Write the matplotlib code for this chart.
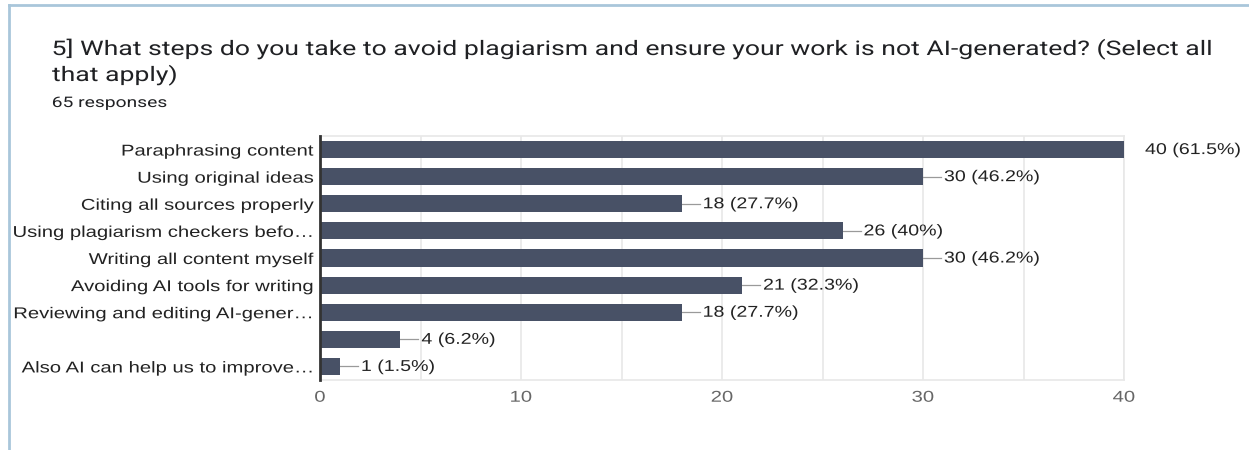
import matplotlib.pyplot as plt
from matplotlib.lines import Line2D
from matplotlib.patheffects import AbstractPathEffect
from matplotlib.transforms import Affine2D

plt.rcParams['font.family'] = ['Liberation Sans', 'DejaVu Sans']

# survey answers (top to bottom) and counts
labels = [
    "Paraphrasing content",
    "Using original ideas",
    "Citing all sources properly",
    "Using plagiarism checkers befo\u2026",
    "Writing all content myself",
    "Avoiding AI tools for writing",
    "Reviewing and editing AI-gener\u2026",
    "",
    "Also AI can help us to improve\u2026",
]
counts = [40, 30, 18, 26, 30, 21, 18, 4, 1]
percents = ["61.5%", "46.2%", "27.7%", "40%", "46.2%", "32.3%", "27.7%", "6.2%", "1.5%"]
total = 65

bar_color = "#485166"
grid_color = "#e8e8e8"
text_color = "#222222"


class Stretch(AbstractPathEffect):
    """Widen text horizontally around an anchor (0 left, 0.5 centre, 1 right)."""

    def __init__(self, sx, anchor=0.0):
        super().__init__()
        self.sx = sx
        self.anchor = anchor

    def draw_path(self, renderer, gc, tpath, affine, rgbFace=None):
        ext = tpath.get_extents()
        x0 = ext.x0 + self.anchor * ext.width
        st = Affine2D().translate(-x0, 0).scale(self.sx, 1).translate(x0, 0)
        renderer.draw_path(gc, tpath, st + affine, rgbFace)


SX = 1.29

fig = plt.figure(figsize=(12.49, 4.5), dpi=100)
ax = fig.add_axes([320 / 1249, 1 - 380 / 450, 804 / 1249, 244 / 450])

ypos = list(range(len(labels)))
ax.barh(ypos, counts, height=0.63, color=bar_color, zorder=3)

# leader lines + value labels
for y, c, p in zip(ypos, counts, percents):
    ax.plot([c, c + 0.9], [y, y], color="#9a9a9a", lw=0.9, zorder=2, clip_on=True)
    ax.text(c + 1.05, y, f"{c} ({p})", va="center", ha="left", fontsize=11.3,
            color=text_color, clip_on=False, path_effects=[Stretch(1.25, 0)])

ax.set_xlim(0, 40)
ax.set_ylim(8.5, -0.5)
ax.set_yticks(ypos)
ax.set_yticklabels(labels, fontsize=11.3, color=text_color)
ax.set_xticks([0, 10, 20, 30, 40])
ax.set_xticks([5, 15, 25, 35], minor=True)
ax.tick_params(axis="x", which="both", length=0, pad=7, labelsize=11.3, labelcolor="#666666")
ax.tick_params(axis="y", length=0, pad=4)
ax.grid(axis="x", which="both", color=grid_color, lw=1.2, zorder=0)
for t in ax.get_yticklabels():
    t.set_path_effects([Stretch(SX, 1)])
for t in ax.get_xticklabels():
    t.set_path_effects([Stretch(SX, 0.5)])

for s in ["top", "bottom", "right"]:
    ax.spines[s].set_color(grid_color)
    ax.spines[s].set_linewidth(1.2)
ax.spines["left"].set_color("#333333")
ax.spines["left"].set_linewidth(2)
ax.spines["left"].set_zorder(4)

# titles
title_kw = dict(fontsize=14.5, color="#202124", va="baseline", ha="left",
                family=["Roboto", "DejaVu Sans"], path_effects=[Stretch(1.32, 0)])
fig.text(52 / 1249, 1 - 55 / 450,
         "5] What steps do you take to avoid plagiarism and ensure your work is not AI-generated? (Select all",
         **title_kw)
fig.text(52 / 1249, 1 - 81 / 450, "that apply)", **title_kw)
fig.text(52 / 1249, 1 - 107 / 450, f"{total} responses", fontsize=10.5, color="#202124",
         va="baseline", ha="left", family=["Roboto", "DejaVu Sans"], path_effects=[Stretch(1.32, 0)])

# card frame (top + left edges)
frame = "#a9c6da"
fig.add_artist(Line2D([8.5 / 1249, 8.5 / 1249], [0, 1 - 5 / 450], transform=fig.transFigure, color=frame, lw=2))
fig.add_artist(Line2D([8.5 / 1249, 1], [1 - 5 / 450, 1 - 5 / 450], transform=fig.transFigure, color=frame, lw=2))

fig.savefig("out.png", dpi=100)
